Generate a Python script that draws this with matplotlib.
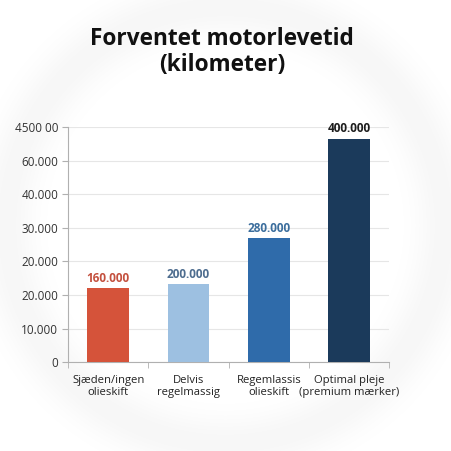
import numpy as np
import matplotlib.pyplot as plt

categories = ["Sjæden/ingen\nolieskift", "Delvis\nregelmassig", "Regemlassis\nolieskift",
              "Optimal pleje\n(premium mærker)"]
bar_heights = [22100, 23200, 37000, 66600]
bar_labels = ["160.000", "200.000", "280.000", "400.000"]
tick_values = [0, 10000, 20000, 30000, 40000, 50000, 60000, 70000]
tick_labels = ["0", "10.000", "20.000", "20.000", "30.000", "40.000", "60.000", "4500 00"]

bar_colors = ["#D5533A", "#9DC0E1", "#2F6BAA", "#1B3A5B"]
label_colors = ["#C4513F", "#4E6D8F", "#3C6E9D", "#1E1E1E"]

plt.rcParams['font.family'] = ['Open Sans', 'DejaVu Sans']

fig = plt.figure(figsize=(4.51, 4.51), dpi=100)

# faint grey ring behind everything
bg = fig.add_axes((0, 0, 1, 1), zorder=-10)
yy, xx = np.mgrid[-1:1:451j, -1:1:451j]
r = np.sqrt(xx ** 2 + yy ** 2)
ring = np.exp(-((r - 0.97) / 0.12) ** 2)
bg.imshow(1 - 0.035 * ring, cmap='gray', vmin=0, vmax=1, extent=(0, 1, 0, 1), aspect='auto')
bg.axis('off')

ax = fig.add_axes((0.151, 0.197, 0.712, 0.521))
ax.patch.set_alpha(0)
x = np.arange(len(categories))
ax.bar(x, bar_heights, width=0.52, color=bar_colors, zorder=3)
for xi, h, lab, c in zip(x, bar_heights, bar_labels, label_colors):
    ax.text(xi, h + 1000, lab, ha='center', va='bottom', fontsize=8.5,
            fontweight='bold', color=c, zorder=4)

ax.set_xlim(-0.5, len(categories) - 0.5)
ax.set_ylim(0, 70000)
ax.set_yticks(tick_values)
ax.set_yticklabels(tick_labels, fontsize=8.5, color='#333333')
ax.set_xticks(x)
ax.set_xticklabels(categories, fontsize=8.1, color='#222222', linespacing=1.2)
ax.set_xticks(np.arange(len(categories) + 1) - 0.5, minor=True)
ax.tick_params(axis='x', which='major', length=0, pad=9)
ax.tick_params(axis='x', which='minor', length=4, color='#b0b0b0')
ax.tick_params(axis='y', length=4, color='#b0b0b0', pad=3)
ax.grid(axis='y', color='#e6e6e6', linewidth=0.8, zorder=0)
for s in ['top', 'right']:
    ax.spines[s].set_visible(False)
for s in ['left', 'bottom']:
    ax.spines[s].set_color('#b0b0b0')
    ax.spines[s].set_linewidth(0.8)

fig.text(0.493, 0.884, "Forventet motorlevetid\n(kilometer)", ha='center', va='center',
         fontsize=16.3, fontweight='bold', color='#111111', linespacing=1.1)

fig.savefig('out.png', dpi=100)
